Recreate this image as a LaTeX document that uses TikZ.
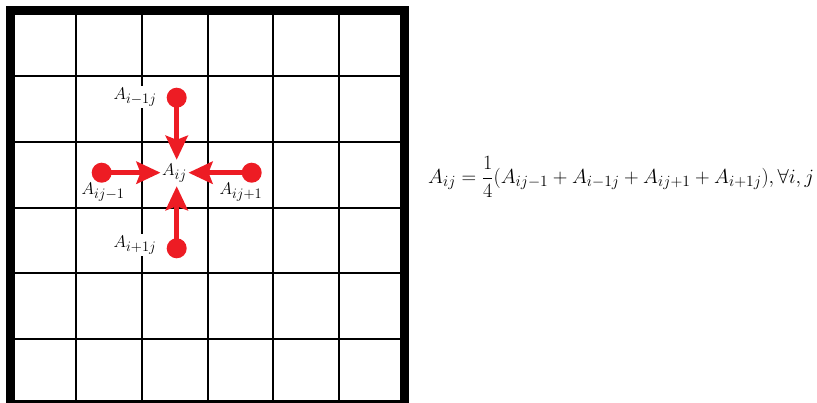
\RequirePackage{fix-cm}
\documentclass[tikz,border=0pt]{standalone}
\usetikzlibrary{arrows.meta}
\DeclareMathSizes{17}{17}{14.5}{11}
\DeclareMathSizes{20.3}{20.3}{15.6}{11.5}
\definecolor{ptred}{HTML}{ED1C24}
\begin{document}
\begin{tikzpicture}[x=1pt,y=-1pt,
  gridline/.style={line width=2pt,black},
  border/.style={line width=9pt,black},
  dotnode/.style={circle,fill=ptred,minimum size=20pt,inner sep=0pt},
  arr/.style={ptred,line width=5pt,-{Stealth[length=24pt,width=22pt,inset=4pt]},shorten <=-2pt},
  lbl/.style={fill=white,inner sep=2pt,font=\fontsize{17}{20}\selectfont},
  eq/.style={font=\fontsize{20.3}{24}\selectfont,inner sep=0pt}]
\useasboundingbox (0,0) rectangle (817,403);
% grid
\foreach \i in {1,...,5}{
  \draw[gridline] ({10.5+\i*65.7},10.5) -- ({10.5+\i*65.7},404.7);
  \draw[gridline] (10.5,{10.5+\i*65.7}) -- (404.7,{10.5+\i*65.7});
}
\draw[border] (10.5,10.5) rectangle (404.7,404.7);
% labels
\node[lbl] (lt) at (135,97) {$A_{i-1j}$};
\node[lbl] (lb) at (135,245) {$A_{i+1j}$};
\node[lbl] (ll) at (103,192) {$A_{ij-1}$};
\node[lbl] (lr) at (241,192) {$A_{ij+1}$};
\node[lbl,fill=none,inner sep=0pt,minimum width=27.6pt,minimum height=26pt] (aij) at (174.5,173) {$A_{ij}$};
% dots
\node[dotnode] (dt) at (176.7,97.7) {};
\node[dotnode] (db) at (176.7,248.3) {};
\node[dotnode] (dl) at (101.7,172.7) {};
\node[dotnode] (dr) at (251.7,172.7) {};
% arrows
\draw[arr] (dt) -- (dt |- aij.north);
\draw[arr] (db) -- (db |- aij.south);
\draw[arr] (dl) -- (dl -| aij.west);
\draw[arr] (dr) -- (dr -| aij.east);
% equation
\node[eq,anchor=west] (eqn) at (428,177) {$\displaystyle A_{ij}=\frac{1}{4}\bigl(A_{ij-1}+A_{i-1j}+A_{ij+1}+A_{i+1j}\bigr),\forall i,j$};
\end{tikzpicture}
\end{document}
